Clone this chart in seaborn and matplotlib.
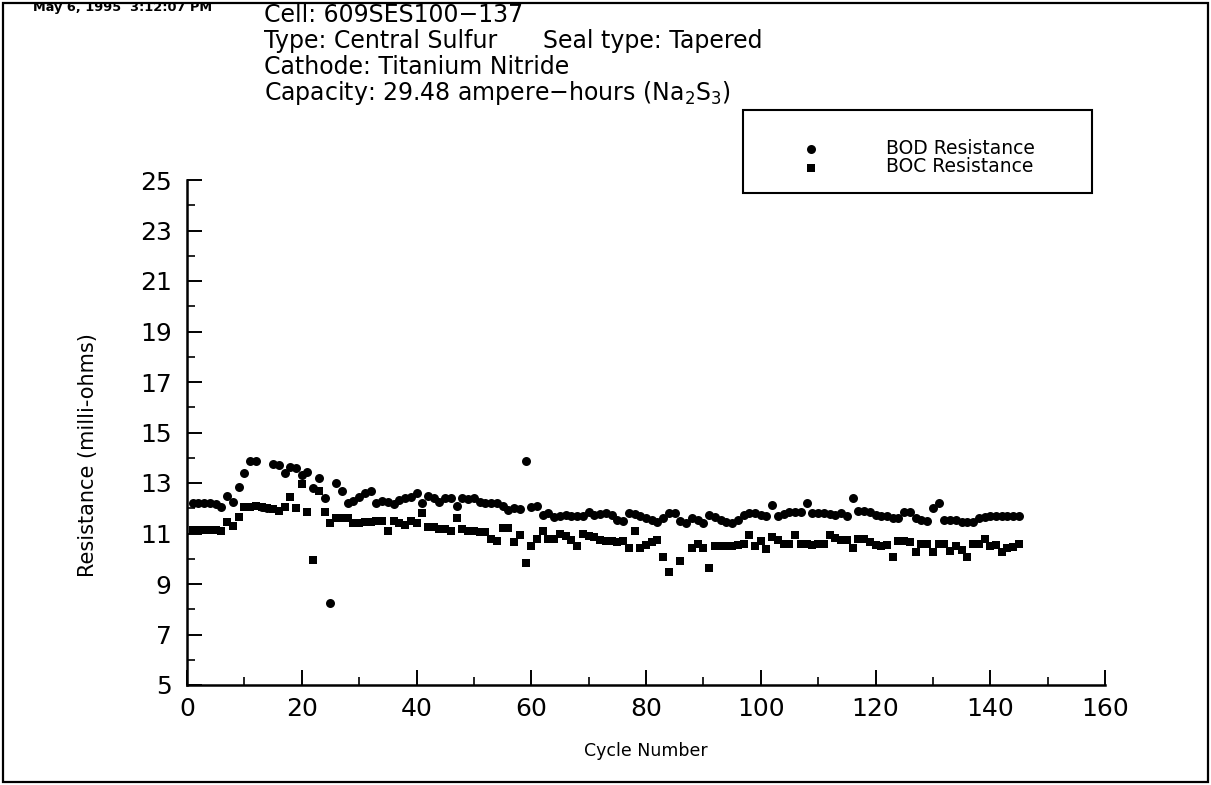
import numpy as np
import pandas as pd
import matplotlib
matplotlib.use("Agg")
import matplotlib.pyplot as plt
from matplotlib.patches import Rectangle
import seaborn as sns

# ---------------- data ----------------
cycles = list(range(1, 146))

bod_resistance = [
    12.2, 12.2, 12.2, 12.2, 12.15, 12.05, 12.5, 12.25, 12.85, 13.4,
    13.88, 13.88, 12.05, 12.0, 13.75, 13.7, 13.4, 13.65, 13.6, 13.3,
    13.45, 12.8, 13.2, 12.4, 8.25, 13.0, 12.7, 12.22, 12.3, 12.45,
    12.6, 12.7, 12.22, 12.3, 12.26, 12.17, 12.33, 12.4, 12.46, 12.62,
    12.2, 12.5, 12.4, 12.26, 12.4, 12.4, 12.08, 12.42, 12.35, 12.4,
    12.26, 12.2, 12.2, 12.2, 12.1, 11.95, 12.0, 11.97, 13.87, 12.06,
    12.1, 11.73, 11.82, 11.67, 11.7, 11.72, 11.7, 11.7, 11.68, 11.85,
    11.75, 11.78, 11.8, 11.75, 11.55, 11.5, 11.83, 11.78, 11.7, 11.6,
    11.52, 11.45, 11.6, 11.83, 11.8, 11.5, 11.42, 11.62, 11.52, 11.43,
    11.72, 11.65, 11.55, 11.45, 11.42, 11.55, 11.72, 11.82, 11.8, 11.75,
    11.7, 12.13, 11.7, 11.78, 11.85, 11.87, 11.87, 12.22, 11.82, 11.8,
    11.8, 11.78, 11.75, 11.8, 11.7, 12.4, 11.9, 11.9, 11.85, 11.75,
    11.7, 11.68, 11.62, 11.6, 11.87, 11.87, 11.6, 11.55, 11.5, 12.0,
    12.22, 11.55, 11.54, 11.54, 11.47, 11.47, 11.47, 11.6, 11.65, 11.7,
    11.7, 11.7, 11.7, 11.7, 11.7,
]

boc_resistance = [
    11.12, 11.12, 11.12, 11.12, 11.12, 11.1, 11.45, 11.28, 11.65, 12.05,
    12.05, 12.1, 12.05, 12.0, 11.98, 11.88, 12.05, 12.45, 12.0, 12.95,
    11.85, 9.95, 12.7, 11.85, 11.4, 11.6, 11.62, 11.6, 11.4, 11.42,
    11.45, 11.45, 11.5, 11.48, 11.1, 11.5, 11.4, 11.34, 11.5, 11.4,
    11.8, 11.27, 11.27, 11.16, 11.16, 11.1, 11.6, 11.16, 11.1, 11.08,
    11.05, 11.05, 10.77, 10.7, 11.2, 11.2, 10.68, 10.94, 9.82, 10.5,
    10.8, 11.1, 10.8, 10.8, 11.0, 10.9, 10.75, 10.5, 11.0, 10.9,
    10.85, 10.75, 10.72, 10.7, 10.68, 10.72, 10.42, 11.1, 10.42, 10.55,
    10.65, 10.75, 10.08, 9.49, np.nan, 9.9, np.nan, 10.42, 10.6, 10.42,
    9.62, 10.5, 10.5, 10.5, 10.52, 10.55, 10.6, 10.95, 10.5, 10.7,
    10.38, 10.85, 10.75, 10.6, 10.6, 10.94, 10.6, 10.58, 10.55, 10.6,
    10.58, 10.94, 10.82, 10.75, 10.74, 10.42, 10.8, 10.8, 10.65, 10.55,
    10.5, 10.55, 10.08, 10.7, 10.72, 10.65, 10.28, 10.6, 10.6, 10.28,
    10.6, 10.6, 10.3, 10.5, 10.35, 10.08, 10.6, 10.6, 10.8, 10.5,
    10.55, 10.28, 10.42, 10.48, 10.6,
]

x_major_ticks = list(range(0, 161, 20))
x_minor_ticks = list(range(0, 161, 10))
y_major_ticks = list(range(5, 26, 2))
y_minor_ticks = list(range(5, 26, 1))

series_labels = ["BOD Resistance", "BOC Resistance"]

header_lines = [
    "Cell: 609SES100\u2212137",
    "Type: Central Sulfur",
    "Cathode: Titanium Nitride",
    "Capacity: 29.48 ampere\u2212hours (Na$_2$S$_3$)",
]
seal_text = "Seal type: Tapered"
date_text = "May 6, 1995  3:12:07 PM"

# ---------------- style ----------------
sns.set_style("ticks")
plt.rcParams["font.family"] = ["DejaVu Sans"]
plt.rcParams["mathtext.default"] = "regular"

W, H = 1211, 785
fig = plt.figure(figsize=(W / 100, H / 100), dpi=100)
fig.patch.set_facecolor("white")

ax_left, ax_right, ax_top, ax_bottom = 187, 1105, 180, 685
ax = fig.add_axes([ax_left / W, 1 - ax_bottom / H,
                   (ax_right - ax_left) / W, (ax_bottom - ax_top) / H])
ax.set_facecolor("white")

df_bod = pd.DataFrame({"cycle": cycles, "res": bod_resistance})
df_boc = pd.DataFrame({"cycle": cycles, "res": boc_resistance})

sns.scatterplot(data=df_bod, x="cycle", y="res", ax=ax, marker="o", s=42,
                color="black", edgecolor="black", linewidth=0,
                label=series_labels[0], clip_on=False)
sns.scatterplot(data=df_boc, x="cycle", y="res", ax=ax, marker="s", s=36,
                color="black", edgecolor="black", linewidth=0,
                label=series_labels[1], clip_on=False)

ax.set_xlim(0, 160)
ax.set_ylim(5, 25)
ax.set_xticks(x_major_ticks)
ax.set_xticks(x_minor_ticks, minor=True)
ax.set_yticks(y_major_ticks)
ax.set_yticks(y_minor_ticks, minor=True)

for s in ["top", "right"]:
    ax.spines[s].set_visible(False)
for s in ["left", "bottom"]:
    ax.spines[s].set_linewidth(1.8)
    ax.spines[s].set_color("black")

ax.tick_params(which="major", direction="in", length=11, width=1.4,
               colors="black", labelsize=18)
ax.tick_params(which="minor", direction="in", length=6, width=1.2,
               colors="black")
ax.tick_params(axis="y", which="major", pad=11)
ax.tick_params(axis="x", which="major", pad=9)

ax.set_xlabel("Cycle Number", fontsize=12.5, color="black")
ax.set_ylabel("Resistance (milli-ohms)", fontsize=15, color="black")
ax.xaxis.set_label_coords(0.5, -(742 - ax_bottom) / (ax_bottom - ax_top))
ax.yaxis.set_label_coords(-(187 - 98) / (ax_right - ax_left),
                          (ax_bottom - 455) / (ax_bottom - ax_top))

# legend (entries) and its box
leg = ax.legend(loc="center left",
                bbox_to_anchor=(802 / W, 1 - 157.5 / H),
                bbox_transform=fig.transFigure,
                frameon=False, fontsize=13.5, handlelength=1.0,
                handletextpad=3.5, labelspacing=0.0, borderpad=0,
                borderaxespad=0, markerscale=1.0)
for t in leg.get_texts():
    t.set_color("black")
fig.patches.append(Rectangle((743 / W, 1 - 193 / H), (1092 - 743) / W,
                             (193 - 110) / H, transform=fig.transFigure,
                             fill=False, edgecolor="black", linewidth=1.5))

# header texts
line_y = [15, 41, 67, 93]
for txt, yy in zip(header_lines, line_y):
    fig.text(264 / W, 1 - yy / H, txt, fontsize=17, va="center", ha="left",
             color="black")
fig.text(543 / W, 1 - line_y[1] / H, seal_text, fontsize=17, va="center",
         ha="left", color="black")
fig.text(33 / W, 1 - 8 / H, date_text, fontsize=9.3, fontweight="bold",
         va="center", ha="left", color="black")

# outer frame
fig.patches.append(Rectangle((3 / W, 3 / H), (1208 - 3) / W, (782 - 3) / H,
                             transform=fig.transFigure, fill=False,
                             edgecolor="black", linewidth=1.6))

fig.savefig("out.png", dpi=100, facecolor="white")
